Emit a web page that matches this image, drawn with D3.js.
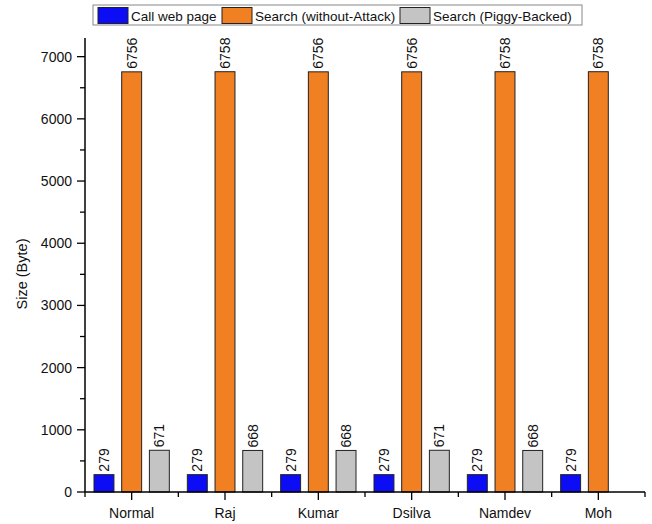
<!DOCTYPE html>
<html>
<head>
<meta charset="utf-8">
<script src="https://cdn.jsdelivr.net/npm/d3@7/dist/d3.min.js"></script>
<style>
  html, body { margin: 0; padding: 0; background: #fff; }
  svg { display: block; font-family: "Liberation Sans", Arial, sans-serif; }
</style>
</head>
<body>
<svg id="chart" width="652" height="524"></svg>
<script>
// Packet sizes per user name
const categories = ["Normal", "Raj", "Kumar", "Dsilva", "Namdev", "Moh"];
const seriesNames = ["Call web page", "Search (without-Attack)", "Search (Piggy-Backed)"];
const callWebPage = [279, 279, 279, 279, 279, 279];
const searchWithout = [6756, 6758, 6756, 6756, 6758, 6758];
const searchPiggy = [671, 668, 668, 671, 668, null];
const yTicks = [0, 1000, 2000, 3000, 4000, 5000, 6000, 7000];
const colors = ["#0c0cf5", "#f08022", "#c4c4c4"];

const series = [callWebPage, searchWithout, searchPiggy];

const svg = d3.select("#chart");
const margin = { left: 85, right: 7, top: 38, bottom: 32 };
const width = 652, height = 524;
const plotBottom = height - margin.bottom;

const x = d3.scaleBand()
  .domain(categories)
  .range([margin.left, width - margin.right])
  .paddingInner(0)
  .paddingOuter(0);

const inner = d3.scaleBand()
  .domain(d3.range(series.length))
  .range([9, x.bandwidth() - 9])
  .paddingInner(0.28)
  .paddingOuter(0);

const y = d3.scaleLinear()
  .domain([0, 7300])
  .range([plotBottom, margin.top]);

// Bars with rotated value labels
const groups = svg.append("g")
  .selectAll("g")
  .data(categories)
  .join("g")
  .attr("transform", d => `translate(${x(d)},0)`);

groups.each(function (cat, ci) {
  const g = d3.select(this);
  series.forEach((vals, si) => {
    const v = vals[ci];
    if (v == null) return;
    g.append("rect")
      .attr("x", inner(si))
      .attr("y", y(v))
      .attr("width", inner.bandwidth())
      .attr("height", y(0) - y(v))
      .attr("fill", colors[si])
      .attr("stroke", "#222")
      .attr("stroke-width", 1);
    const cx = inner(si) + inner.bandwidth() / 2;
    g.append("text")
      .attr("transform", `translate(${cx + 5},${y(v) - 3}) rotate(-90)`)
      .attr("font-size", 14)
      .attr("fill", "#111")
      .text(v);
  });
});

// Y axis with major and minor ticks
const yAxis = svg.append("g").attr("transform", `translate(${margin.left},0)`);
yAxis.append("line")
  .attr("x1", 0).attr("x2", 0)
  .attr("y1", margin.top).attr("y2", plotBottom)
  .attr("stroke", "#000").attr("stroke-width", 1.5);
d3.range(0, 7300, 500).forEach(v => {
  const major = v % 1000 === 0;
  yAxis.append("line")
    .attr("x1", major ? -8 : -5).attr("x2", 0)
    .attr("y1", y(v)).attr("y2", y(v))
    .attr("stroke", "#000").attr("stroke-width", 1.3);
});
yAxis.selectAll("text.tick")
  .data(yTicks)
  .join("text")
  .attr("class", "tick")
  .attr("x", -13)
  .attr("y", d => y(d))
  .attr("dy", "0.35em")
  .attr("text-anchor", "end")
  .attr("font-size", 14)
  .attr("fill", "#111")
  .text(d => d);

// X axis
const xAxis = svg.append("g");
xAxis.append("line")
  .attr("x1", margin.left).attr("x2", width - margin.right)
  .attr("y1", plotBottom).attr("y2", plotBottom)
  .attr("stroke", "#000").attr("stroke-width", 1.5);
categories.forEach((c, i) => {
  const cx = x(c) + x.bandwidth() / 2;
  xAxis.append("line")
    .attr("x1", cx).attr("x2", cx)
    .attr("y1", plotBottom).attr("y2", plotBottom + 8)
    .attr("stroke", "#000").attr("stroke-width", 1.3);
  xAxis.append("line")
    .attr("x1", x(c)).attr("x2", x(c))
    .attr("y1", plotBottom).attr("y2", plotBottom + 5)
    .attr("stroke", "#000").attr("stroke-width", 1.3);
  xAxis.append("text")
    .attr("x", cx)
    .attr("y", plotBottom + 26)
    .attr("text-anchor", "middle")
    .attr("font-size", 14)
    .attr("fill", "#111")
    .text(c);
});
xAxis.append("line")
  .attr("x1", width - margin.right).attr("x2", width - margin.right)
  .attr("y1", plotBottom).attr("y2", plotBottom + 5)
  .attr("stroke", "#000").attr("stroke-width", 1.3);

// Y axis title
svg.append("text")
  .attr("transform", `translate(27,274) rotate(-90)`)
  .attr("text-anchor", "middle")
  .attr("font-size", 14.5)
  .attr("fill", "#111")
  .text("Size (Byte)");

// Legend
const legend = svg.append("g");
legend.append("rect")
  .attr("x", 93).attr("y", 5)
  .attr("width", 489).attr("height", 20)
  .attr("fill", "#fff")
  .attr("stroke", "#888").attr("stroke-width", 1);
const legendX = [98, 222, 400];
seriesNames.forEach((name, i) => {
  legend.append("rect")
    .attr("x", legendX[i]).attr("y", 7.5)
    .attr("width", 30).attr("height", 16)
    .attr("fill", colors[i])
    .attr("stroke", "#222").attr("stroke-width", 1);
  legend.append("text")
    .attr("x", legendX[i] + 33)
    .attr("y", 20.5)
    .attr("font-size", 13.5)
    .attr("fill", "#111")
    .text(name);
});
</script>
</body>
</html>
